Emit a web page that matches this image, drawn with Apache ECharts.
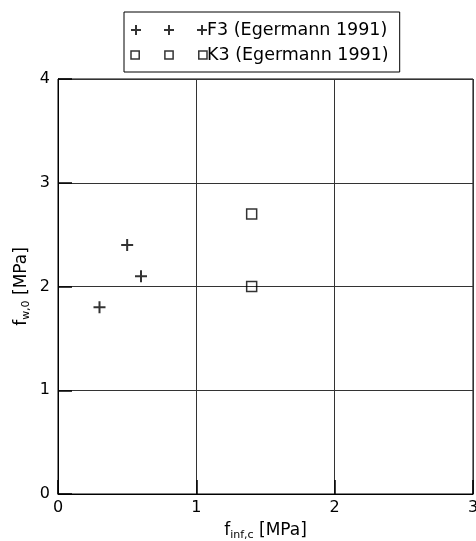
<!DOCTYPE html>
<html><head><meta charset="utf-8">
<script src="https://cdn.jsdelivr.net/npm/echarts@6/dist/echarts.min.js"></script>
<style>html,body{margin:0;padding:0;background:#fff}#c{width:476px;height:541px}</style>
</head><body><div id="c"></div>
<script>
const seriesNames = ['F3 (Egermann 1991)', 'K3 (Egermann 1991)'];
const f3Data = [[0.3, 1.8], [0.5, 2.4], [0.6, 2.1]];
const k3Data = [[1.4, 2.7], [1.4, 2.0]];
const xTicks = [0, 1, 2, 3];
const yTicks = [0, 1, 2, 3, 4];

const plusPath = 'path://M0,5L10,5M5,0L5,10';
const squarePath = 'path://M0,0L10,0L10,10L0,10Z';
const plusLegend = 'path://M0,5L10,5M5,0L5,10M33,5L43,5M38,0L38,10M66,5L76,5M71,0L71,10';
const squareLegend = 'path://M1,1L9,1L9,9L1,9ZM34,1L42,1L42,9L34,9ZM67,1L75,1L75,9L67,9Z';

const chart = echarts.init(document.getElementById('c'), null, {renderer: 'canvas'});
const font = 'DejaVu Sans';
const rich = {
  m: {fontSize: 17, color: '#000', fontFamily: font},
  s: {fontSize: 11, color: '#000', fontFamily: font, verticalAlign: 'bottom', padding: [9, 0, 0, 0]}
};
chart.setOption({
  animation: false,
  textStyle: {fontFamily: font},
  grid: {left: 58, right: 3, top: 79, bottom: 47, show: true, borderColor: '#000', borderWidth: 1, outerBoundsMode: 'none', containLabel: false},
  legend: {
    orient: 'vertical', left: 124, top: 12,
    borderColor: '#000', borderWidth: 1, padding: [9, 11, 8, 6],
    itemGap: 7, itemWidth: 76, itemHeight: 10,
    textStyle: {fontSize: 17.5, color: '#000', fontFamily: font, padding: [0, 0, 0, -5]},
    data: [
      {name: seriesNames[0], icon: plusLegend, itemStyle: {color: 'rgba(0,0,0,0)', borderColor: '#000', borderWidth: 2}},
      {name: seriesNames[1], icon: squareLegend, itemStyle: {color: 'rgba(0,0,0,0)', borderColor: '#000', borderWidth: 1.5}}
    ]
  },
  xAxis: {
    type: 'value', min: xTicks[0], max: xTicks[xTicks.length - 1], interval: 1,
    name: '{m|f}{s|inf,c}{m| [MPa]}', nameLocation: 'middle', nameGap: 27, nameMoveOverlap: false,
    nameTextStyle: {rich: rich},
    axisLine: {show: true, lineStyle: {color: '#000'}},
    axisTick: {show: true, inside: true, length: 14, lineStyle: {color: '#000', width: 1.5}},
    axisLabel: {fontSize: 16, color: '#000', margin: 6},
    splitLine: {show: true, lineStyle: {color: '#333', width: 1}}
  },
  yAxis: {
    type: 'value', min: yTicks[0], max: yTicks[yTicks.length - 1], interval: 1,
    name: '{m|f}{s|w,0}{m| [MPa]}', nameLocation: 'middle', nameGap: 26, nameMoveOverlap: false,
    nameTextStyle: {rich: rich},
    axisLine: {show: true, lineStyle: {color: '#000'}},
    axisTick: {show: true, inside: true, length: 14, lineStyle: {color: '#000', width: 1.5}},
    axisLabel: {fontSize: 16, color: '#000', margin: 8},
    splitLine: {show: true, lineStyle: {color: '#333', width: 1}}
  },
  series: [
    {name: seriesNames[0], type: 'scatter', data: f3Data, symbol: plusPath, symbolSize: 12,
     itemStyle: {color: 'rgba(0,0,0,0)', borderColor: '#000', borderWidth: 2}},
    {name: seriesNames[1], type: 'scatter', data: k3Data, symbol: squarePath, symbolSize: 10,
     itemStyle: {color: 'rgba(0,0,0,0)', borderColor: '#000', borderWidth: 1.5}}
  ]
});
</script></body></html>
